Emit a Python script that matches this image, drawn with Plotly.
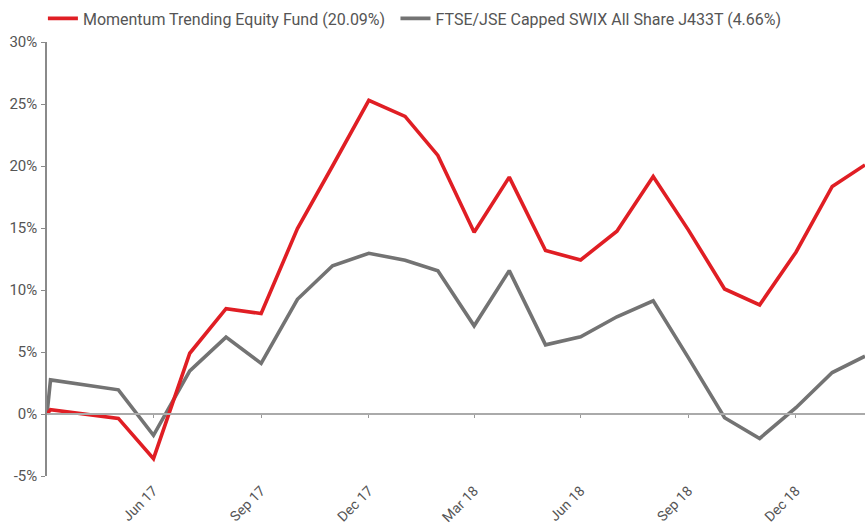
import plotly.graph_objects as go

# Month-end observation dates (series starts at 0% on 31 Mar 2017)
dates = [
    "2017-03-31", "2017-04-03", "2017-05-31", "2017-06-30", "2017-07-31",
    "2017-08-31", "2017-09-30", "2017-10-31", "2017-11-30", "2017-12-31",
    "2018-01-31", "2018-02-28", "2018-03-31", "2018-04-30", "2018-05-31",
    "2018-06-30", "2018-07-31", "2018-08-31", "2018-09-30", "2018-10-31",
    "2018-11-30", "2018-12-31", "2019-01-31", "2019-02-28",
]

# Cumulative returns (%)
fund = [
    0.0, 0.35, -0.35, -3.6, 4.9, 8.5, 8.1, 14.95, 20.0, 25.3,
    24.0, 20.85, 14.66, 19.1, 13.18, 12.42, 14.74, 19.16, 14.85, 10.08,
    8.8, 13.05, 18.35, 20.09,
]
benchmark = [
    0.0, 2.75, 1.95, -1.72, 3.48, 6.2, 4.08, 9.25, 11.96, 12.96,
    12.4, 11.55, 7.11, 11.56, 5.58, 6.22, 7.84, 9.13, 4.55, -0.3,
    -1.97, 0.51, 3.34, 4.66,
]

series_names = [
    "Momentum Trending Equity Fund (20.09%)",
    "FTSE/JSE Capped SWIX All Share J433T (4.66%)",
]

tick_dates = ["2017-06-30", "2017-09-30", "2017-12-31", "2018-03-31",
              "2018-06-30", "2018-09-30", "2018-12-31"]
tick_text = ["Jun 17", "Sep 17", "Dec 17", "Mar 18", "Jun 18", "Sep 18", "Dec 18"]

y_ticks = [-5, 0, 5, 10, 15, 20, 25, 30]
y_text = [f"{v}%" for v in y_ticks]
y_min, y_max = -5, 30

RED = "#e01e24"
GREY = "#737373"
TEXT = "#555555"
FONT = "Roboto"

fig = go.Figure()
# Fund drawn on the overlaid x-axis (which also carries the zero-line ticks) so it sits on top
fig.add_trace(go.Scatter(x=dates, y=fund, mode="lines", name=series_names[0],
                         xaxis="x2", legend="legend",
                         line=dict(color=RED, width=3.6)))
fig.add_trace(go.Scatter(x=dates, y=benchmark, mode="lines", name=series_names[1],
                         legend="legend2",
                         line=dict(color=GREY, width=3.6)))

legend_style = dict(orientation="h", xanchor="left", y=1.015, yanchor="bottom",
                    font=dict(family=FONT, size=16, color=TEXT),
                    itemwidth=30, bgcolor="rgba(0,0,0,0)")

fig.update_layout(
    width=865, height=527,
    margin=dict(l=47, r=0, t=42, b=51),
    paper_bgcolor="white", plot_bgcolor="white",
    font=dict(family=FONT, size=15, color=TEXT),
    showlegend=True,
    legend=dict(x=-0.005, **legend_style),
    legend2=dict(x=0.426, **legend_style),
    xaxis=dict(
        type="date", range=[dates[0], dates[-1]],
        tickmode="array", tickvals=tick_dates, ticktext=tick_text,
        tickangle=-45, showgrid=False, zeroline=False, showline=False,
        ticks="", ticklabelstandoff=3, automargin=False,
        tickfont=dict(family=FONT, size=14, color=TEXT),
    ),
    xaxis2=dict(
        type="date", overlaying="x", matches="x", anchor="free",
        position=(0 - y_min) / (y_max - y_min),
        tickmode="array", tickvals=tick_dates, showticklabels=False,
        ticks="outside", ticklen=3, tickwidth=1, tickcolor="#999999",
        showline=True, linecolor="#aaaaaa", linewidth=2,
        showgrid=False, zeroline=False, automargin=False,
    ),
    yaxis=dict(
        range=[y_min, y_max], tickmode="array", tickvals=y_ticks, ticktext=y_text,
        showgrid=False, zeroline=True, zerolinecolor="#aaaaaa", zerolinewidth=2,
        showline=True, linecolor="#8a8a8a", linewidth=1.5,
        ticks="outside", ticklen=4, tickwidth=1, tickcolor="#8a8a8a",
        tickfont=dict(family=FONT, size=15, color=TEXT), ticklabelstandoff=1,
        automargin=False,
    ),
)

fig.write_html("out.html")
